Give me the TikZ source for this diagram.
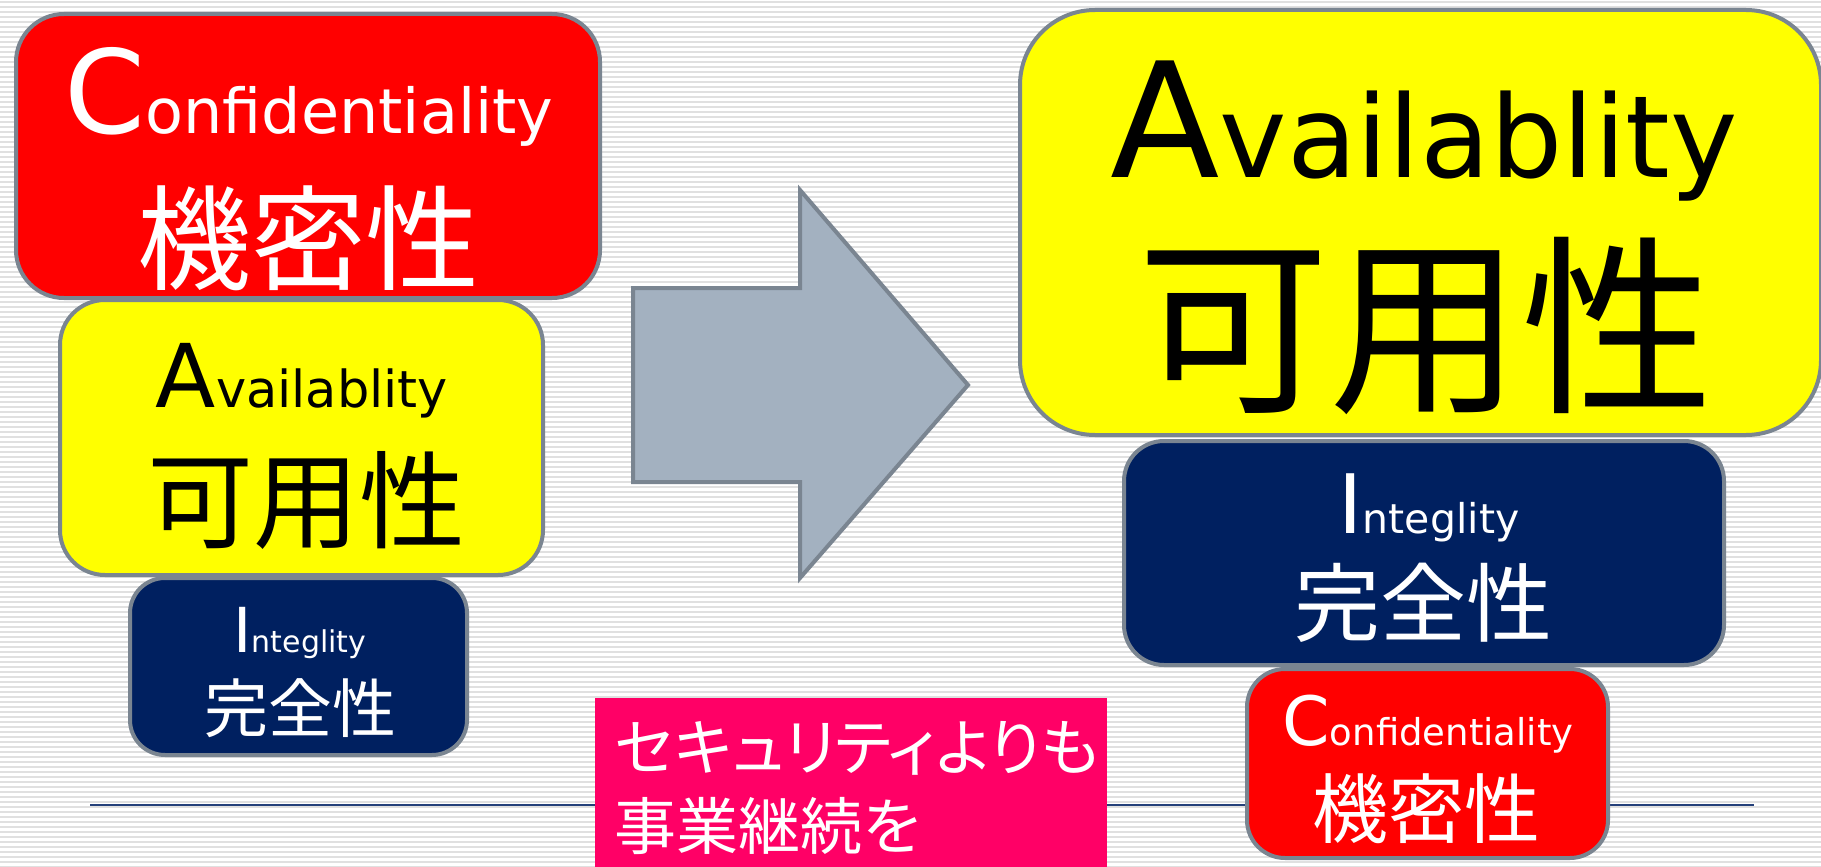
\documentclass[tikz,border=0pt]{standalone}
\usepackage{fontspec}
\setmainfont{Noto Sans CJK JP}
\newfontfamily\jpp[RawFeature=+palt]{Noto Sans CJK JP}
\newfontfamily\lat{DejaVu Sans}
\definecolor{boxred}{HTML}{FF0000}
\definecolor{boxyellow}{HTML}{FFFF00}
\definecolor{boxnavy}{HTML}{002060}
\definecolor{boxpink}{HTML}{FF0066}
\definecolor{edgegray}{HTML}{7A8591}
\definecolor{arrowfill}{HTML}{A3B1C0}
\definecolor{stripegray}{HTML}{E0E0E0}
\definecolor{rulenavy}{HTML}{24407A}
\newcommand{\fs}[1]{\fontsize{#1}{#1}\selectfont}
\tikzset{
  card/.style={draw=edgegray, line width=4pt, inner sep=0pt, outer sep=0pt},
  stripe/.style={draw=stripegray, line width=2pt},
  lbl/.style={inner sep=0pt, anchor=base, font=\lat},
  cjk/.style={inner sep=0pt, anchor=center},
}
\begin{document}
\begin{tikzpicture}[x=1pt,y=-1pt]
\useasboundingbox (0,0) rectangle (1821,867);
\fill[white] (0,0) rectangle (1821,867);
\foreach \i in {0,...,173} \draw[stripe] (0,\i*5+2) -- (1821,\i*5+2);
% rule line
\coordinate (rl) at (90,805);
\coordinate (rr) at (1754,805);
\draw[rulenavy, line width=1.5pt] (rl) -- (rr);
% left stack
\node[card, fill=boxred, rounded corners=48pt, minimum width=584pt, minimum height=284pt] (lred) at (308,156) {};
\node[card, fill=boxyellow, rounded corners=45pt, minimum width=483pt, minimum height=275pt] (lyel) at (301.5,437.5) {};
\node[card, fill=boxnavy, rounded corners=35pt, minimum width=337pt, minimum height=177pt] (lnav) at (298.5,666.5) {};
% arrow
\filldraw[fill=arrowfill, draw=edgegray, line width=4pt, line join=miter]
  (633,288) -- (800,288) -- (800,190) -- (968,385) -- (800,578) -- (800,482) -- (633,482) -- cycle;
% right stack
\node[card, fill=boxyellow, rounded corners=75pt, minimum width=801pt, minimum height=425pt] (ryel) at (1420.5,222.5) {};
\node[card, fill=boxnavy, rounded corners=40pt, minimum width=600pt, minimum height=224pt] (rnav) at (1424,553) {};
\node[card, fill=boxred, rounded corners=38pt, minimum width=361pt, minimum height=189pt] (rred) at (1427.5,763.5) {};
% pink box
\fill[boxpink] (595,698) rectangle (1107,870);
\node[inner sep=0pt, anchor=west, text=white] (pink1) at (615,748.5) {\jpp\fs{62}セキュリティよりも};
\node[inner sep=0pt, anchor=west, text=white] (pink2) at (614,826) {\fs{62}事業継続を};
% texts left
\node[lbl, text=white] (lredl) at (309,133) {\fs{116}C\fs{62}onfidentiality};
\node[cjk, text=white] (lredj) at (308,238) {\fs{114}機密性};
\node[lbl, text=black] (lyell) at (302,407) {\fs{88}A\fs{51}vailablity};
\node[cjk, text=black] (lyelj) at (306,500) {\fs{106}可用性};
\node[lbl, text=white] (lnavl) at (300,652) {\fs{62}I\fs{30}nteglity};
\node[cjk, text=white] (lnavj) at (300,708) {\fs{64}完全性};
% texts right
\node[lbl, text=black] (ryell) at (1424,177) {\fs{160}A\fs{114}vailablity};
\node[cjk, text=black] (ryelj) at (1425,326) {\fs{192}可用性};
\node[lbl, text=white] (rnavl) at (1429,533) {\fs{82}I\fs{41}nteglity};
\node[cjk, text=white] (rnavj) at (1423,603) {\fs{86}完全性};
\node[lbl, text=white] (rredl) at (1428,745) {\fs{68}C\fs{37}onfidentiality};
\node[cjk, text=white] (rredj) at (1426,809) {\fs{76}機密性};
\end{tikzpicture}
\end{document}
